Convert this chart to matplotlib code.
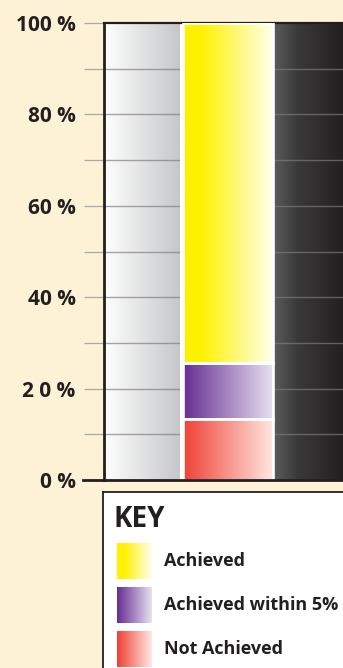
import numpy as np
import matplotlib.pyplot as plt
from matplotlib.colors import to_rgb

# data (percent of the single stacked bar)
categories = ["Achieved", "Achieved within 5%", "Not Achieved"]
shares = [74.5, 12.1, 13.4]
tick_values = [0, 20, 40, 60, 80, 100]
tick_labels = ["0 %", "2 0 %", "40 %", "60 %", "80 %", "100 %"]
minor_ticks = [10, 30, 50, 70, 90]

BG = "#FDF2D5"
INK = "#231F20"
GRID = (0.49, 0.49, 0.49, 0.68)
FONT = "Open Sans"

# horizontal gradients (left -> right)
grad_stops = {
    "Achieved": [(0, "#FFF200"), (0.2, "#FFF200"), (1, "#FFFFF2")],
    "Achieved within 5%": [(0, "#662D91"), (1, "#E8E2F2")],
    "Not Achieved": [(0, "#EF4136"), (1, "#FFE9E1")],
}
left_panel = [(0, "#FFFFFF"), (1, "#C6C7C9")]
right_panel = [(0, "#5C5C5C"), (0.35, "#3A3939"), (1, "#231F20")]


def hgrad(stops, n=256):
    pos = np.array([p for p, c in stops])
    cols = np.array([to_rgb(c) for p, c in stops])
    t = np.linspace(0, 1, n)
    img = np.stack([np.interp(t, pos, cols[:, k]) for k in range(3)], axis=-1)
    return img[np.newaxis, :, :]


W, H = 343, 668
fig = plt.figure(figsize=(W / 100, H / 100), dpi=100, facecolor=BG)
ax = fig.add_axes([104 / W, 1 - 480 / H, (W - 104) / W, (480 - 23) / H])
ax.set_facecolor("white")
xmin, xmax = -1.4, 1.3
bar_w = 1.02

# side panels
ax.imshow(hgrad(left_panel), extent=[xmin, -0.542, 0, 100], aspect="auto", zorder=0)
ax.imshow(hgrad(right_panel), extent=[0.508, xmax, 0, 100], aspect="auto", zorder=0)

# grid every 10 %
for v in minor_ticks + tick_values[1:-1]:
    ax.axhline(v, color=GRID, lw=1.0, zorder=1)

# white column behind the bar
ax.axvspan(-0.542, 0.508, color="white", zorder=2, lw=0)

# stacked bar, bottom-up
bottom = 0
for cat, val in reversed(list(zip(categories, shares))):
    patch = ax.bar(0, val, bottom=bottom, width=bar_w, facecolor="none",
                   edgecolor="white", lw=1.9, zorder=4)[0]
    im = ax.imshow(hgrad(grad_stops[cat]),
                   extent=[-bar_w / 2, bar_w / 2, bottom, bottom + val],
                   aspect="auto", zorder=3)
    im.set_clip_path(patch)
    bottom += val

ax.set_xlim(xmin, xmax)
ax.set_ylim(0, 100)
ax.set_xticks([])
ax.set_yticks(tick_values)
ax.set_yticklabels(tick_labels, fontsize=15, fontweight="bold", fontfamily=FONT, color=INK)
ax.set_yticks(minor_ticks, minor=True)
ax.tick_params(axis="y", which="both", length=14.4, width=0.9, color="#A7A9AC", pad=6)

ax.spines["right"].set_visible(False)
ax.spines["left"].set_color(INK)
ax.spines["left"].set_linewidth(2.0)
ax.spines["top"].set_color(INK)
ax.spines["top"].set_linewidth(1.6)
ax.spines["bottom"].set_visible(False)
ax.axhline(0, xmin=-0.088, xmax=1, color=INK, lw=2.0, clip_on=False, zorder=6)

# key box, in pixel coordinates (y downwards)
kx = fig.add_axes([103 / W, -10 / H, (W - 103 + 10) / W, (H + 10 - 491.5) / H])
kx.set_facecolor("white")
kx.set_xticks([])
kx.set_yticks([])
for s in kx.spines.values():
    s.set_color(INK)
    s.set_linewidth(1.3)

kx.text(114, 527, "KEY", fontsize=20, fontweight="bold", fontfamily=FONT,
        color=INK, va="baseline")
for i, cat in enumerate(categories):
    y0 = 543.5 + i * 44.2
    kx.imshow(hgrad(grad_stops[cat]), extent=[117, 152, y0 + 35.5, y0], aspect="auto")
    kx.text(164, y0 + 17.5, cat, fontsize=13, fontweight="bold", fontfamily=FONT,
            color=INK, va="center")
kx.set_xlim(103, W + 10)
kx.set_ylim(H + 10, 491.5)

fig.savefig("out.png", dpi=100, facecolor=BG)
